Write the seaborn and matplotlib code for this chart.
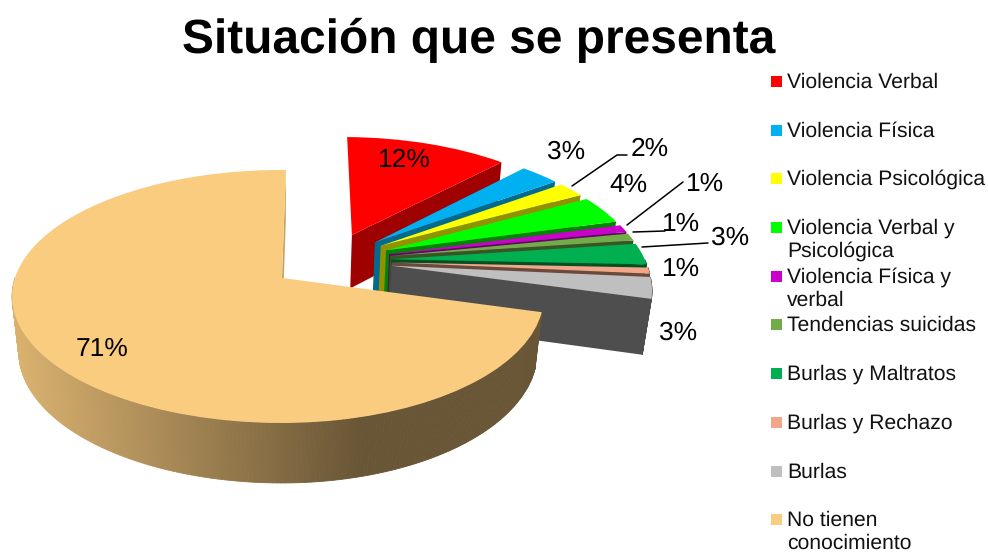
import numpy as np
import matplotlib
matplotlib.use("Agg")
import matplotlib.pyplot as plt
from matplotlib.transforms import Transform
from matplotlib.patches import Rectangle
import seaborn as sns

# ---- data ----
categories = ["Violencia Verbal", "Violencia Física", "Violencia Psicológica",
              "Violencia Verbal y\nPsicológica", "Violencia Física y\nverbal",
              "Tendencias suicidas", "Burlas y Maltratos", "Burlas y Rechazo",
              "Burlas", "No tienen\nconocimiento"]
values = [12, 2.9, 2, 3.7, 1, 1, 2.8, 0.8, 2.8, 71]
hex_colors = ["#FF0000", "#00B0F0", "#FFFF00", "#00FF00", "#CC00CC",
              "#70AD47", "#00B050", "#F4A58A", "#BFBFBF", "#FACC80"]
title = "Situación que se presenta"

# ---- style / layout ----
sns.set_theme(style="white")
plt.rcParams["font.family"] = ["Liberation Sans", "DejaVu Sans"]
plt.rcParams["text.hinting"] = "no_hinting"
palette = sns.color_palette(hex_colors)

W, H = 988, 552
CX, CY = 282.0, 278.0      # pixel of the perspective origin
RX_L, RX_R, RY = 267.0, 259.0, 123.8   # half axes (left, right, vertical)
K, M, DEPTH = 0.146, 0.025, 56.4


def proj(u, v, z=0.0):
    u, v, z = np.asarray(u, float), np.asarray(v, float), np.asarray(z, float)
    f = 1.0 / (1.0 + K * v + M * z)
    rx = np.where(u < 0, RX_L, RX_R)
    return CX + rx * u * f, CY - RY * v * f + DEPTH * z * f


class Perspective(Transform):
    input_dims = output_dims = 2
    is_affine = False

    def transform_non_affine(self, values):
        values = np.asarray(values, float)
        x, y = proj(values[:, 0], values[:, 1])
        return np.column_stack([x, y])


fig = plt.figure(figsize=(W / 100, H / 100), dpi=100, facecolor="white")
ax = fig.add_axes([0, 0, 1, 1])
wedges, _ = ax.pie(values, explode=[0.24] * len(values), colors=palette,
                   startangle=89, counterclock=False, center=(0.192, 0.144),
                   radius=1.0, wedgeprops=dict(linewidth=0))
ax.set_aspect("auto")
ax.set_xlim(0, W)
ax.set_ylim(H, 0)
ax.axis("off")
T = Perspective() + ax.transData


def shade(col, s):
    return tuple(c * s for c in col)


for i, w in enumerate(wedges):
    base = i * 10
    col = palette[i]
    c0, c1 = w.center
    r = w.r
    w.set_transform(T)
    w.set_zorder(base + 5)
    w.set_clip_on(False)
    # outer rim, front-facing part only
    angs = np.arange(w.theta1, w.theta2 + 0.75, 0.75)
    angs[-1] = min(angs[-1], w.theta2)
    for a0, a1 in zip(angs[:-1], angs[1:]):
        if np.sin(np.radians((a0 + a1) / 2)) > 0:
            continue
        t = np.radians([a0, a1])
        u = c0 + r * np.cos(t)
        v = c1 + r * np.sin(t)
        xt, yt = proj(u, v, 0.0)
        xb, yb = proj(u, v, 1.0)
        s = np.interp(xt.mean(), [15, 360, 560], [0.87, 0.42, 0.42])
        fc = shade(col, s)
        ax.fill([xt[0], xt[1], xb[1], xb[0]], [yt[0], yt[1], yb[1], yb[0]],
                fc=fc, ec=fc, lw=0.6, zorder=base + 1)
    # radial cut face at the clockwise end of the slice
    t = np.radians(w.theta1)
    u = np.array([c0, c0 + r * np.cos(t)])
    v = np.array([c1, c1 + r * np.sin(t)])
    xt, yt = proj(u, v, 0.0)
    xb, yb = proj(u, v, 1.0)
    ang_top = (90 - w.theta1) % 360
    s = np.interp(ang_top, [40, 55, 107], [0.63, 0.6, 0.4]) if i < 9 else 0.8
    ax.fill([xt[0], xt[1], xb[1], xb[0]], [yt[0], yt[1], yb[1], yb[0]],
            fc=shade(col, s), ec="none", zorder=base + 2)

# ---- percentage labels ----
label_xy = [(404, 160), (566, 152), (650, 149), (628, 185), (705, 184),
            (681, 224), (730, 238), (681, 269), (678, 333), (102, 349)]
for val, (x, y) in zip(values, label_xy):
    ax.text(x, y, f"{round(val)}%", fontsize=19, color="black", ha="center",
            va="center", zorder=200)

# ---- leader lines ----
leaders = [([572, 617, 627], [186, 155, 155]),
           ([627, 683], [225, 182]),
           ([633, 665], [232, 231]),
           ([642, 708], [247, 243])]
for lx, ly in leaders:
    ax.plot(lx, ly, color="black", lw=1.1, zorder=190)

# ---- legend ----
legend_y = [81, 130, 178, 227, 276, 324, 373, 422, 471, 519]
for cat, col, y in zip(categories, palette, legend_y):
    ax.add_patch(Rectangle((771, y - 5.5), 11, 11, fc=col, ec="none", zorder=200))
    for j, line in enumerate(cat.split("\n")):
        ax.text(787, y + 1.5 + 23 * j, line, fontsize=15.25, color="#111111",
                ha="left", va="center", zorder=200)

# ---- title ----
ax.text(479, 40, title, fontsize=34.5, fontweight="bold", color="black",
        ha="center", va="center", zorder=200)

ax.set_xlim(0, W)
ax.set_ylim(H, 0)
fig.savefig("out.png", dpi=100, facecolor="white")
